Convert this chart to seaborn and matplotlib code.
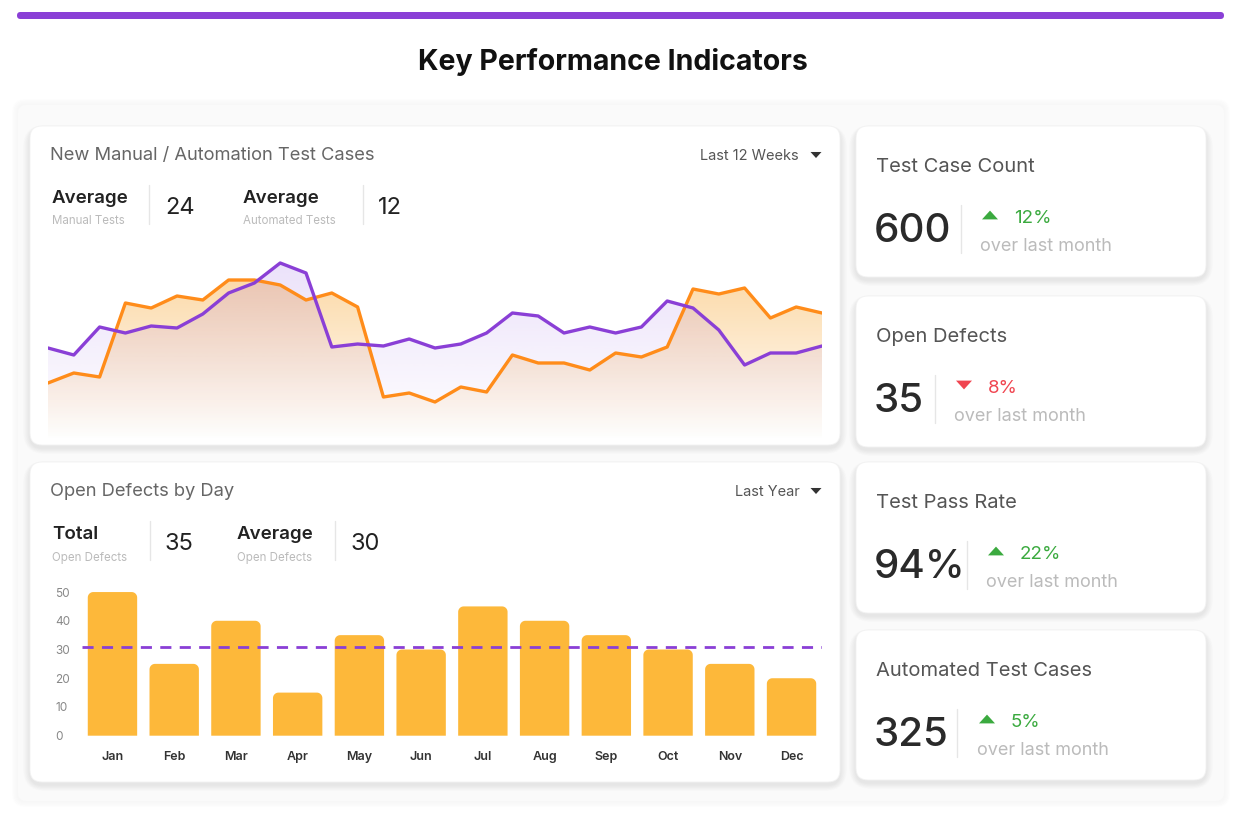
import numpy as np
import pandas as pd
import matplotlib
matplotlib.use("Agg")
import matplotlib.pyplot as plt
from matplotlib.patches import FancyBboxPatch, Polygon
import seaborn as sns

# ---------------- data ----------------
weeks = list(range(31))
manual_tests = [57, 67, 63, 137, 132, 144, 140, 160, 160, 155, 140, 147, 133, 43, 47, 38,
                53, 48, 85, 77, 77, 70, 87, 83, 93, 151, 146, 152, 122, 133, 127]
automated_tests = [92, 85, 113, 107, 114, 112, 126, 147, 157, 177, 167, 93, 96, 94, 101, 92,
                   96, 107, 127, 124, 107, 113, 107, 113, 139, 132, 110, 75, 87, 87, 94]

months = ["Jan", "Feb", "Mar", "Apr", "May", "Jun", "Jul", "Aug", "Sep", "Oct", "Nov", "Dec"]
open_defects = [50, 25, 40, 15, 35, 30, 45, 40, 35, 30, 25, 20]
defect_avg_line = 31
bar_yticks = [0, 10, 20, 30, 40, 50]

kpi_titles = ["Test Case Count", "Open Defects", "Test Pass Rate", "Automated Test Cases"]
kpi_values = ["600", "35", "94%", "325"]
kpi_changes = ["12%", "8%", "22%", "5%"]
kpi_up = [True, False, True, True]

# ---------------- style ----------------
sns.set_theme(style="white")
plt.rcParams['font.family'] = ['Inter', 'DejaVu Sans']

ORANGE = "#FF8C1A"
PURPLE = "#8A3FD6"
BAR = "#FDB83A"
GREEN = "#3BAA3F"
RED = "#F04550"

W, H = 1240, 814
fig = plt.figure(figsize=(W / 100, H / 100), dpi=100)
fig.patch.set_facecolor("white")

bg = fig.add_axes([0, 0, 1, 1])
bg.set_xlim(0, W)
bg.set_ylim(H, 0)
bg.axis("off")

DY = 2.5  # vertical text offset


def px_axes(l, t, r, b):
    return fig.add_axes([l / W, 1 - b / H, (r - l) / W, (b - t) / H])


def card(x0, y0, x1, y1, r=12):
    for i in range(10, 0, -1):
        sh = FancyBboxPatch((x0 - i * 0.7, y0 - i * 0.4 + 3), x1 - x0 + i * 1.4, y1 - y0 + i * 1.0,
                            boxstyle=f"round,pad=0,rounding_size={r + i}",
                            fc="black", ec="none", alpha=0.006, zorder=1)
        bg.add_patch(sh)
    p = FancyBboxPatch((x0, y0), x1 - x0, y1 - y0,
                       boxstyle=f"round,pad=0,rounding_size={r}",
                       fc="white", ec="#f2f2f2", lw=0.6, zorder=2)
    bg.add_patch(p)


def tri(x, y, up, color, s=7):
    if up:
        pts = [(x - s, y + s * 0.55), (x + s, y + s * 0.55), (x, y - s * 0.55)]
    else:
        pts = [(x - s, y - s * 0.55), (x + s, y - s * 0.55), (x, y + s * 0.55)]
    bg.add_patch(Polygon(pts, closed=True, fc=color, ec="none", zorder=5))


def txt(x, y, s, **kw):
    bg.text(x, y + DY, s, va="center", zorder=5, **kw)


# top bar + soft panel
bg.add_patch(FancyBboxPatch((17, 12), 1207, 7, boxstyle="round,pad=0,rounding_size=3.5",
                            fc=PURPLE, ec="none", zorder=3))
for i in range(6, 0, -1):
    bg.add_patch(FancyBboxPatch((18 - i, 105 - i), 1206 + 2 * i, 696 + 2 * i,
                                boxstyle=f"round,pad=0,rounding_size={8 + i}",
                                fc="#f4f4f4", ec="none", alpha=0.12, zorder=0.5))
bg.add_patch(FancyBboxPatch((18, 105), 1206, 696, boxstyle="round,pad=0,rounding_size=8",
                            fc="#fafafa", ec="none", zorder=0.6))
txt(613, 60, "Key Performance Indicators", ha="center",
    fontsize=20.5, fontweight="bold", color="#111111")

# ---------------- cards ----------------
card(30, 126, 840, 445)
card(30, 462, 840, 782)
kpi_boxes = [(126, 277), (296, 447), (462, 613), (630, 780)]
for (t, b) in kpi_boxes:
    card(856, t, 1206, b)

# card 1 header
txt(50, 153, "New Manual / Automation Test Cases", fontsize=13.2, color="#666666")
txt(700, 154, "Last 12 Weeks", fontsize=10.5, color="#555555")
tri(816, 155, False, "#333333", s=5.5)
txt(52, 196, "Average", fontsize=13.5, fontweight="semibold", color="#222222")
txt(52, 219, "Manual Tests", fontsize=8.3, color="#bbbbbb")
bg.plot([149, 149], [185, 224], color="#e6e6e6", lw=1, zorder=5)
txt(165, 205, "24", fontsize=17, color="#222222")
txt(243, 196, "Average", fontsize=13.5, fontweight="semibold", color="#222222")
txt(243, 219, "Automated Tests", fontsize=8.3, color="#bbbbbb")
bg.plot([363, 363], [185, 224], color="#e6e6e6", lw=1, zorder=5)
txt(378, 205, "12", fontsize=17, color="#222222")

# card 2 header
txt(50, 489, "Open Defects by Day", fontsize=13.2, color="#666666")
txt(735, 490, "Last Year", fontsize=10.5, color="#555555")
tri(816, 491, False, "#333333", s=5.5)
txt(52, 532, "Total", fontsize=13.5, fontweight="semibold", color="#222222")
txt(52, 555, "Open Defects", fontsize=8.3, color="#bbbbbb")
bg.plot([150, 150], [521, 560], color="#e6e6e6", lw=1, zorder=5)
txt(165, 541, "35", fontsize=17, color="#222222")
txt(237, 532, "Average", fontsize=13.5, fontweight="semibold", color="#222222")
txt(237, 555, "Open Defects", fontsize=8.3, color="#bbbbbb")
bg.plot([335, 335], [521, 560], color="#e6e6e6", lw=1, zorder=5)
txt(351, 541, "30", fontsize=17, color="#222222")

# KPI cards
kpi_layout = [  # title_y, value_y, divider_x, tri_x
    (165, 229, 961, 990),
    (335, 399, 935, 964),
    (501, 565, 967, 996),
    (668, 733, 957, 987),
]
for i, (ty, vy, dx, tx) in enumerate(kpi_layout):
    txt(876, ty, kpi_titles[i], fontsize=14.5, color="#555555")
    txt(874, vy, kpi_values[i], fontsize=29, fontweight="medium", color="#2a2a2a")
    bg.plot([dx, dx], [vy - 24, vy + 24], color="#e6e6e6", lw=1, zorder=5)
    col = GREEN if kpi_up[i] else RED
    tri(tx, vy - 14, kpi_up[i], col, s=8)
    txt(tx + 24, vy - 13, kpi_changes[i], fontsize=13.5, color=col)
    txt(tx - 10, vy + 15, "over last month", fontsize=13, color="#bbbbbb")

# ---------------- line chart ----------------
ax1 = px_axes(48, 255, 822, 440)
ax1.patch.set_alpha(0)
ax1.set_zorder(10)
df_line = pd.DataFrame({"week": weeks, "manual": manual_tests, "automated": automated_tests})
YMAX = 185


def gradient_fill(ax, x, y, rgb, amax):
    coll = ax.fill_between(x, 0, y, facecolor="none", edgecolor="none")
    path = coll.get_paths()[0]
    n = 256
    grad = np.zeros((n, 1, 4))
    grad[:, 0, 0] = rgb[0]
    grad[:, 0, 1] = rgb[1]
    grad[:, 0, 2] = rgb[2]
    grad[:, 0, 3] = np.linspace(0, amax, n)
    im = ax.imshow(grad, extent=[min(x), max(x), 0, YMAX], origin="lower", aspect="auto", zorder=1)
    im.set_clip_path(path, transform=ax.transData)


gradient_fill(ax1, weeks, manual_tests, (0.98, 0.70, 0.30), 0.55)
gradient_fill(ax1, weeks, automated_tests, (0.60, 0.40, 0.90), 0.2)
sns.lineplot(data=df_line, x="week", y="manual", color=ORANGE, lw=2.4, ax=ax1,
             solid_capstyle="round", solid_joinstyle="round", zorder=3)
sns.lineplot(data=df_line, x="week", y="automated", color=PURPLE, lw=2.4, ax=ax1,
             solid_capstyle="round", solid_joinstyle="round", zorder=4)
ax1.set_xlim(0, 30)
ax1.set_ylim(0, YMAX)
ax1.axis("off")

# ---------------- bar chart ----------------
BAR_TOP = 52
ax2 = px_axes(81.6, 586.3, 822.4, 735.7)
ax2.patch.set_alpha(0)
ax2.set_zorder(10)
df_bar = pd.DataFrame({"month": months, "defects": open_defects})
sns.barplot(data=df_bar, x="month", y="defects", color=BAR, width=0.8, ax=ax2, saturation=1)
ax2.set_ylim(0, BAR_TOP)
ax2.set_xlim(-0.5, 11.5)
px_per_x = (822.4 - 81.6) / 12.0
px_per_y = (735.7 - 586.3) / BAR_TOP
rad_px = 5.5
rx, ry = rad_px / px_per_x, rad_px / px_per_y
theta = np.linspace(0, np.pi / 2, 12)
for p in list(ax2.patches):
    x0, y0 = p.get_x(), p.get_y()
    w, h = p.get_width(), p.get_height()
    p.set_visible(False)
    x1, y1 = x0 + w, y0 + h
    right = [(x1 - rx + rx * np.cos(t), y1 - ry + ry * np.sin(t)) for t in theta]
    left = [(x0 + rx - rx * np.cos(t), y1 - ry + ry * np.sin(t)) for t in theta[::-1]]
    verts = [(x0, y0), (x1, y0)] + right + left
    ax2.add_patch(Polygon(verts, closed=True, fc=BAR, ec="none", zorder=2))
ax2.axhline(defect_avg_line, color=PURPLE, lw=2, ls=(0, (4, 3)), zorder=3)
ax2.set_yticks(bar_yticks)
ax2.set_yticklabels([str(v) for v in bar_yticks])
ax2.tick_params(axis="y", length=0, pad=19, labelsize=8.5, labelcolor="#888888")
for t in ax2.get_yticklabels():
    t.set_ha("left")
ax2.tick_params(axis="x", length=0, pad=11, labelsize=9, labelcolor="#333333")
for t in ax2.get_xticklabels():
    t.set_fontweight("semibold")
ax2.set_xlabel("")
ax2.set_ylabel("")
sns.despine(ax=ax2, left=True, bottom=True)
ax2.grid(False)

fig.savefig("out.png", dpi=100, facecolor="white")
